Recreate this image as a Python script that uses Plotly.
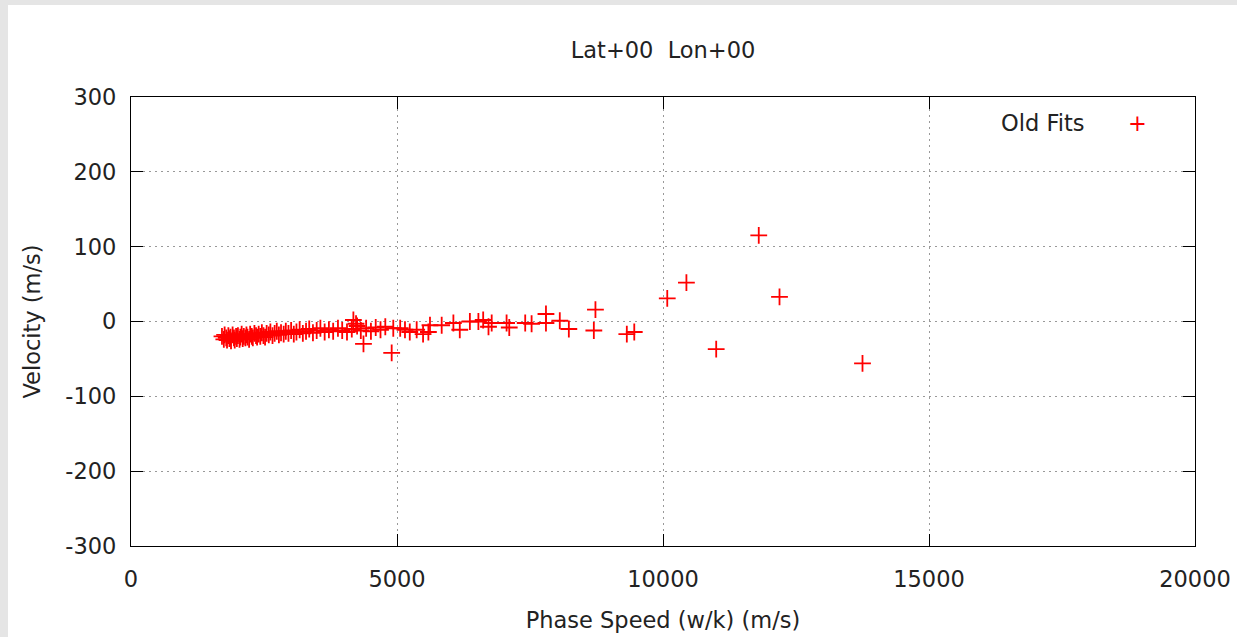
import plotly.graph_objects as go

# Phase speed (w/k) in m/s
phase_speed = [
    1710, 1745, 1760, 1790, 1805, 1830, 1850, 1870, 1880, 1910, 1935, 1950,
    1975, 1990, 2010, 2040, 2055, 2080, 2100, 2120, 2150, 2170, 2190, 2220,
    2240, 2270, 2290, 2320, 2350, 2370, 2400, 2430, 2460, 2490, 2520, 2550,
    2590, 2620, 2660, 2700, 2740, 2780, 2820, 2870, 2910, 2960, 3010, 3060,
    3110, 3170, 3230, 3290, 3350, 3420, 3490, 3560, 3640, 3720, 3800, 3890,
    3970, 4060, 4150, 4180, 4230, 4250, 4320, 4370, 4420, 4510, 4600, 4690,
    4780, 4900, 4930, 5060, 5150, 5240, 5370, 5490, 5590, 5620, 5840, 6060,
    6180, 6370, 6530, 6620, 6720, 6780, 7060, 7110, 7410, 7530, 7800, 7800,
    8060, 8230, 8700, 8730, 9320, 9460, 10080, 10440, 11000, 11800, 12190,
    13750,
]
# Velocity in m/s
velocity = [
    -20, -24, -18, -22, -25, -19, -23, -21, -26, -18, -22, -25,
    -20, -23, -19, -24, -21, -17, -23, -20, -22, -18, -21, -24,
    -17, -20, -22, -16, -19, -21, -17, -20, -15, -19, -21, -16,
    -18, -14, -19, -16, -13, -18, -15, -17, -13, -16, -12, -17,
    -14, -11, -16, -13, -10, -15, -12, -9, -14, -11, -13, -9,
    -12, -14, -10, 2, -3, -6, -12, -30, -9, -13, -8, -11,
    -7, -42, -9, -9, -11, -14, -11, -17, -14, -5, -5, -2,
    -11, 0, 0, 2, -7, -2, -2, -8, -2, -3, 10, -2,
    1, -10, -12, 16, -17, -14, 31, 52, -37, 115, 33,
    -56,
]

title_text = "Lat+00  Lon+00"
x_title = "Phase Speed (w/k) (m/s)"
y_title = "Velocity (m/s)"
series_name = "Old Fits"
x_ticks = [0, 5000, 10000, 15000, 20000]
y_ticks = [-300, -200, -100, 0, 100, 200, 300]

FONT = "DejaVu Sans"
FS = 22.5

fig = go.Figure()
fig.add_trace(go.Scatter(
    x=phase_speed, y=velocity, mode="markers", name=series_name,
    marker=dict(symbol="cross-thin-open", size=12,
                line=dict(color="#ff0000", width=1.8), color="#ff0000"),
    showlegend=False,
))

axis_common = dict(
    showline=True, linecolor="#000000", linewidth=1.3, mirror="ticks",
    ticks="inside", ticklen=12, tickwidth=1.3, tickcolor="#000000",
    showgrid=True, gridcolor="#999999", griddash="2px,4px", gridwidth=1.2,
    zeroline=False, automargin=False,
    tickfont=dict(family=FONT, size=FS, color="#222222"),
)

fig.update_xaxes(range=[0, 20000], tickvals=x_ticks,
                 ticktext=[str(v) for v in x_ticks], ticklabelstandoff=13,
                 title=dict(text=x_title, standoff=21,
                            font=dict(family=FONT, size=FS, color="#222222")),
                 **axis_common)
fig.update_yaxes(range=[-300, 300], tickvals=y_ticks,
                 ticktext=[str(v) for v in y_ticks], ticklabelstandoff=9,
                 title=dict(text=y_title, standoff=18,
                            font=dict(family=FONT, size=FS, color="#222222")),
                 **axis_common)

# white card on light gray page
fig.add_shape(type="rect", xref="paper", yref="paper",
              x0=-0.1156, x1=1.1, y0=-0.3, y1=1.2049,
              fillcolor="#ffffff", line=dict(width=0), layer="below")

fig.add_annotation(xref="paper", yref="paper", x=0.8988, y=0.942,
                   xanchor="right", yanchor="middle", showarrow=False,
                   text=series_name,
                   font=dict(family=FONT, size=FS, color="#222222"))
fig.add_annotation(xref="paper", yref="paper", x=0.9455, y=0.942,
                   xanchor="center", yanchor="middle", showarrow=False,
                   text="+", font=dict(family=FONT, size=FS, color="#ff0000"))

fig.update_layout(
    width=1237, height=637,
    margin=dict(l=131, r=42, t=97, b=91, autoexpand=False),
    paper_bgcolor="#e5e5e5", plot_bgcolor="#ffffff",
    font=dict(family=FONT, size=FS, color="#222222"),
    title=dict(text=title_text, x=0.536, xanchor="center",
               y=1 - 50 / 637, yref="container", yanchor="middle",
               font=dict(family=FONT, size=FS, color="#222222")),
)

fig.write_html(
    "out.html",
    config={"displayModeBar": False},
    post_script="document.body.style.margin='0';"
                "document.body.style.overflow='hidden';",
)
